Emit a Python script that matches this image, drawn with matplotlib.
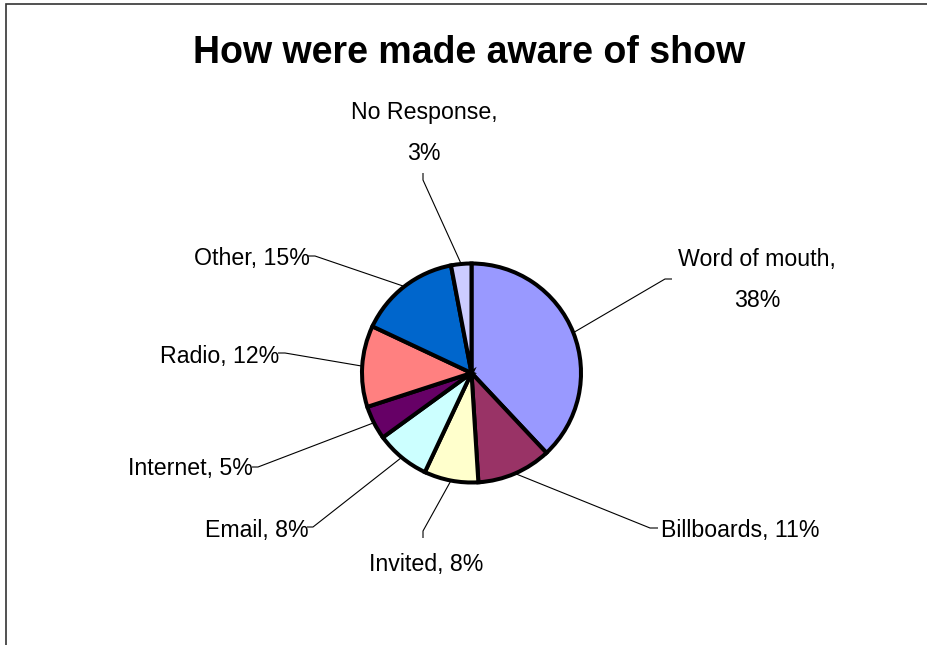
import matplotlib.pyplot as plt
from matplotlib.patches import Rectangle
import numpy as np

categories = ['Word of mouth', 'Billboards', 'Invited', 'Email',
              'Internet', 'Radio', 'Other', 'No Response']
percent = [38, 11, 8, 8, 5, 12, 15, 3]
colors = ['#9999FF', '#993366', '#FFFFCC', '#CCFFFF',
          '#660066', '#FF8080', '#0066CC', '#CCCCFF']
two_line = ['Word of mouth', 'No Response']

W, H = 927, 645

# label layout in pixels from the top-left corner:
# (elbow of the leader, end of the short tick, text anchor, alignment)
label_layout = [
    ((665, 279), (672, 279), (757, 280), 'center'),
    ((650, 528), (658, 528), (661, 531), 'left'),
    ((423, 531), (423, 538), (426, 565), 'center'),
    ((313, 527), (307, 527), (309, 531), 'right'),
    ((258, 467), (252, 467), (253, 469), 'right'),
    ((285, 353), (278, 353), (279, 356), 'right'),
    ((315, 256), (308, 256), (310, 259), 'right'),
    ((423, 180), (423, 173), (424, 133), 'center'),
]

plt.rcParams['font.family'] = ['Liberation Sans', 'DejaVu Sans']

fig = plt.figure(figsize=(W / 100, H / 100), dpi=100)
ax = fig.add_axes([0, 0, 1, 1])


def top(y):
    return H - y


cx, cy, r = 471.5, top(373), 109.5
wedges, _ = ax.pie(percent, colors=colors, startangle=90, counterclock=False,
                   center=(cx, cy), radius=r, frame=True,
                   wedgeprops=dict(edgecolor='black', linewidth=2.9))
ax.set_xlim(0, W)
ax.set_ylim(0, H)
ax.axis('off')

for w, name, val, (elbow, tick, pos, ha) in zip(wedges, categories, percent, label_layout):
    ang = np.deg2rad((w.theta1 + w.theta2) / 2)
    ex, ey = cx + r * np.cos(ang), cy + r * np.sin(ang)
    ax.plot([ex, elbow[0], tick[0]], [ey, top(elbow[1]), top(tick[1])],
            color='black', lw=0.8, solid_capstyle='butt')
    sep = ',\n' if name in two_line else ', '
    ax.text(pos[0], top(pos[1]), f'{name}{sep}{val}%', ha=ha, va='center',
            fontsize=16.7, linespacing=2.05)

ax.text(469.5, top(53), 'How were made aware of show', ha='center',
        va='center', fontsize=27, fontweight='bold')

# chart area frame, runs off the right and bottom edges
ax.add_patch(Rectangle((6, -20), 1000, top(4) + 20, fill=False,
                       edgecolor='#333333', lw=1.2))

fig.savefig('out.png', dpi=100)
